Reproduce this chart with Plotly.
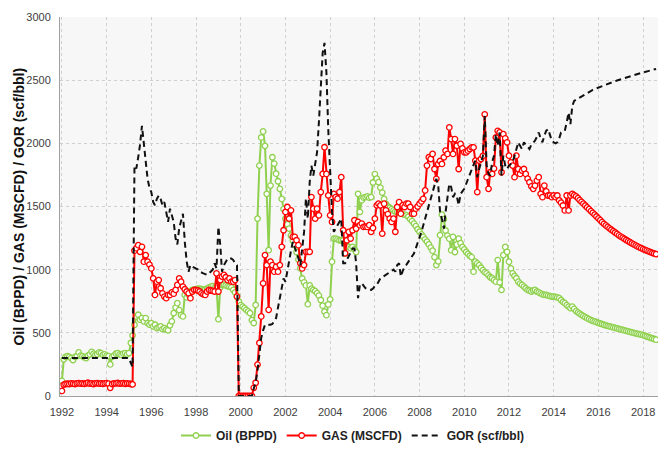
import pandas as pd
import plotly.graph_objects as go

start_month = "1992-01-01"

oil_bppd = [
    120, 290, 310, 315, 310, 300, 285, 310, 315, 345, 320, 315,  # 1992
    305, 300, 320, 330, 350, 335, 325, 330, 345, 340, 325, 330,  # 1993
    320, 315, 250, 310, 320, 335, 340, 330, 325, 335, 340, 330,  # 1994
    340, 420, 480, 564, 630, 643, 604, 617, 591, 617, 577, 565,  # 1995
    577, 551, 564, 538, 545, 551, 530, 538, 525, 520, 560, 591,  # 1996
    656, 700, 735, 680, 640, 630, 800, 780, 800, 830, 840, 840,  # 1997
    845, 850, 850, 845, 840, 845, 850, 860, 865, 870, 860, 870,  # 1998
    608, 860, 880, 880, 875, 870, 865, 860, 840, 820, 790, 748,  # 1999
    720, 708, 695, 682, 670, 656, 600, 578, 721, 1404, 1824, 2047,  # 2000
    2094, 1980, 1600, 1154, 1666, 1890, 1840, 1760, 1700, 1640, 1560, 1480,  # 2001
    1404, 1360, 1325, 1270, 1230, 1194, 1140, 1080, 1010, 930, 900, 875,  # 2002
    727, 875, 850, 840, 830, 815, 795, 760, 715, 668, 640, 725,  # 2003
    765, 1063, 1246, 1246, 1240, 1233, 1233, 1233, 1128, 1190, 1180, 1170,  # 2004
    1180, 1160, 1140, 1600, 1458, 1550, 1570, 1575, 1580, 1570, 1575, 1690,  # 2005
    1757, 1720, 1693, 1650, 1610, 1560, 1520, 1500, 1490, 1480, 1470, 1460,  # 2006
    1455, 1450, 1445, 1440, 1435, 1430, 1420, 1400, 1385, 1365, 1345, 1320,  # 2007
    1300, 1280, 1260, 1240, 1222, 1200, 1175, 1150, 1100, 1036, 1066, 1273,  # 2008
    1435, 1400, 1310, 1270, 1245, 1154, 1260, 1140, 1200, 1245, 1210, 1180,  # 2009
    1160, 1140, 1125, 1110, 1100, 984, 1063, 1050, 1036, 1015, 997, 980,  # 2010
    971, 955, 940, 932, 918, 905, 1076, 900, 840, 1115, 1180, 1141,  # 2011
    1063, 1010, 971, 950, 932, 905, 890, 879, 866, 853, 840, 835,  # 2012
    827, 835, 840, 827, 820, 813, 805, 800, 800, 795, 790, 787,  # 2013
    787, 785, 780, 774, 760, 745, 735, 720, 708, 696, 708, 690,  # 2014
    672, 662, 652, 642, 633, 624, 616, 608, 601, 595, 590, 584,  # 2015
    579, 574, 569, 564, 559, 555, 551, 547, 543, 539, 535, 531,  # 2016
    527, 523, 519, 515, 511, 507, 503, 499, 496, 492, 489, 486,  # 2017
    482, 477, 471, 466, 461, 456, 451, 446,  # 2018
]

gas_mscfd = [
    40, 90, 95, 97, 95, 100, 98, 95, 100, 102, 98, 100,  # 1992
    97, 100, 105, 98, 100, 95, 100, 102, 98, 100, 97, 100,  # 1993
    102, 98, 65, 95, 100, 100, 103, 98, 100, 102, 97, 100,  # 1994
    98, 95, 92, 1150, 1170, 1194, 1141, 1181, 1063, 1115, 1063, 1040,  # 1995
    1010, 931, 800, 905, 918, 853, 813, 787, 774, 800, 800, 820,  # 1996
    810, 840, 879, 931, 905, 866, 845, 827, 813, 774, 827, 840,  # 1997
    840, 835, 827, 813, 805, 800, 827, 840, 835, 832, 827, 971,  # 1998
    827, 918, 945, 958, 940, 918, 931, 905, 905, 918, 787, 0,  # 1999
    0, 0, 0, 0, 0, 0, 0, 65, 105, 249, 420, 630,  # 2000
    892, 1115, 1036, 682, 1063, 1036, 984, 1023, 984, 1036, 1181, 1312,  # 2001
    1457, 1496, 1404, 1470, 1260, 1260, 1233, 1194, 1050, 1010, 1036, 1141,  # 2002
    1141, 1141, 1575, 1483, 1404, 1483, 1430, 1614, 1758, 1969, 1758, 1588,  # 2003
    1430, 1378, 1600, 1575, 1562, 1614, 1732, 1312, 1130, 1233, 1299, 1246,  # 2004
    1312, 1391, 1325, 1378, 1352, 1365, 1338, 1340, 1338, 1352, 1299, 1330,  # 2005
    1404, 1509, 1522, 1509, 1286, 1522, 1470, 1440, 1404, 1378, 1404, 1300,  # 2006
    1496, 1535, 1443, 1510, 1496, 1522, 1522, 1496, 1443, 1443, 1483, 1500,  # 2007
    1522, 1540, 1561, 1627, 1824, 1890, 1876, 1916, 1797, 1719, 1837, 1860,  # 2008
    1837, 1890, 1942, 1916, 2126, 2034, 1916, 2034, 1981, 1797, 1995, 1960,  # 2009
    1929, 1929, 1942, 1955, 1968, 1968, 1863, 1614, 1863, 1876, 1900, 2230,  # 2010
    1732, 1640, 1771, 1758, 1800, 2047, 2099, 2086, 1771, 2073, 2040, 2008,  # 2011
    1902, 1850, 1824, 1732, 1902, 1797, 1758, 1784, 1797, 1758, 1720, 1692,  # 2012
    1660, 1640, 1666, 1705, 1732, 1600, 1574, 1666, 1620, 1587, 1587, 1574,  # 2013
    1587, 1574, 1587, 1548, 1530, 1508, 1469, 1587, 1469, 1587, 1600, 1590,  # 2014
    1580, 1566, 1551, 1537, 1522, 1508, 1493, 1479, 1464, 1450, 1435, 1421,  # 2015
    1406, 1392, 1377, 1363, 1350, 1338, 1327, 1316, 1305, 1294, 1283, 1272,  # 2016
    1262, 1253, 1244, 1235, 1226, 1217, 1208, 1200, 1192, 1184, 1177, 1170,  # 2017
    1163, 1157, 1151, 1145, 1139, 1133, 1128, 1123,  # 2018
]

gor_scf_bbl = [
    300, 300, 300, 300, 300, 300, 300, 300, 300, 300, 300, 300,  # 1992
    300, 300, 300, 300, 300, 300, 300, 300, 300, 300, 300, 300,  # 1993
    300, 300, 300, 300, 300, 300, 300, 300, 300, 300, 300, 300,  # 1994
    300, 260, 230, 1824, 1800, 1890, 1990, 2139, 2008, 1850, 1719, 1650,  # 1995
    1614, 1535, 1510, 1561, 1587, 1560, 1510, 1535, 1450, 1378, 1483, 1420,  # 1996
    1378, 1246, 1200, 1330, 1400, 1443, 1220, 1063, 984, 1036, 1023, 1015,  # 1997
    1010, 1000, 984, 975, 971, 965, 958, 970, 984, 1000, 1050, 1010,  # 1998
    1339, 1194, 984, 1036, 1060, 1089, 1089, 1089, 1076, 1050, 1036, 0,  # 1999
    0, 0, 0, 0, 0, 0, 0, 60, 110, 200, 330, 460,  # 2000
    520, 564, 564, 564, 564, 570, 590, 617, 700, 774, 850, 931,  # 2001
    905, 1000, 1063, 1150, 1220, 1180, 1141, 1090, 1036, 1167, 1299, 1562,  # 2002
    1404, 1693, 1824, 1745, 1850, 1929, 2165, 2454, 2717, 2795, 2560, 2113,  # 2003
    1719, 1457, 1299, 1330, 1352, 1380, 1404, 1050, 1050, 1080, 1100, 1141,  # 2004
    1167, 1167, 1050, 774, 879, 892, 870, 853, 845, 840, 840, 850,  # 2005
    870, 879, 900, 931, 940, 950, 958, 965, 975, 984, 1000, 984,  # 2006
    1036, 1050, 945, 990, 1023, 1040, 1063, 1080, 1100, 1128, 1170, 1210,  # 2007
    1246, 1300, 1350, 1404, 1460, 1510, 1561, 1610, 1660, 1719, 1666, 1457,  # 2008
    1400, 1325, 1457, 1561, 1679, 1653, 1574, 1600, 1580, 1510, 1600, 1620,  # 2009
    1640, 1680, 1719, 1760, 1797, 1830, 1863, 1732, 1797, 1850, 1900, 2217,  # 2010
    1824, 1760, 1745, 1850, 1902, 2073, 1981, 2086, 1745, 1902, 1824, 1797,  # 2011
    1824, 1837, 1850, 1900, 1950, 2008, 1980, 1955, 2008, 1990, 1970, 1955,  # 2012
    1990, 2008, 2021, 2050, 2086, 2040, 2008, 2060, 2100, 2113, 2060, 2021,  # 2013
    2008, 2000, 2008, 2040, 2086, 2090, 2099, 2165, 2244, 2152, 2296, 2336,  # 2014
    2345, 2355, 2365, 2375, 2384, 2393, 2401, 2409, 2416, 2423, 2430, 2436,  # 2015
    2442, 2448, 2454, 2460, 2466, 2472, 2477, 2482, 2487, 2492, 2497, 2502,  # 2016
    2507, 2512, 2517, 2522, 2527, 2532, 2537, 2541, 2545, 2549, 2553, 2557,  # 2017
    2561, 2565, 2569, 2573, 2577, 2581, 2585, 2589,  # 2018
]

series_names = ["Oil (BPPD)", "GAS (MSCFD)", "GOR (scf/bbl)"]
y_title = "Oil (BPPD) / GAS (MSCFD) / GOR (scf/bbl)"

months = pd.date_range(start_month, periods=len(oil_bppd), freq="MS")

OIL_C = "#8fd14f"
GAS_C = "#ff0000"

fig = go.Figure()
fig.add_trace(go.Scatter(
    x=months, y=oil_bppd, name=series_names[0], mode="lines+markers",
    line=dict(color=OIL_C, width=2),
    marker=dict(symbol="circle", size=5.5, color="white", line=dict(color=OIL_C, width=1.3)),
))
fig.add_trace(go.Scatter(
    x=months, y=gas_mscfd, name=series_names[1], mode="lines+markers",
    line=dict(color=GAS_C, width=2),
    marker=dict(symbol="circle", size=5.5, color="white", line=dict(color=GAS_C, width=1.3)),
))
fig.add_trace(go.Scatter(
    x=months, y=gor_scf_bbl, name=series_names[2], mode="lines",
    line=dict(color="#111111", width=2, dash="6px,4px"),
))

tick_font = dict(family="Liberation Sans, Arial, sans-serif", size=11, color="#404040")

fig.update_layout(
    width=658, height=450,
    margin=dict(l=60, r=0, t=17, b=52),
    paper_bgcolor="white",
    plot_bgcolor="#f7f7f7",
    showlegend=True,
    legend=dict(
        orientation="h", xanchor="center", yanchor="middle",
        x=0.49, y=-0.105,
        font=dict(family="Liberation Sans, Arial, sans-serif", size=12, color="#222222", weight="bold"),
        itemwidth=30, bgcolor="rgba(0,0,0,0)", tracegroupgap=0,
    ),
    xaxis=dict(
        type="date", range=["1991-12-01", "2018-09-01"],
        dtick="M24", tick0="1992-01-01", tickformat="%Y",
        showgrid=True, gridcolor="#cfcfcf", griddash="dot", gridwidth=1,
        showline=True, linecolor="#a0a0a0", linewidth=1,
        ticks="", ticklabelstandoff=6, tickfont=tick_font, zeroline=False,
    ),
    yaxis=dict(
        range=[0, 3000], dtick=500, tick0=0,
        showgrid=True, gridcolor="#cfcfcf", griddash="dot", gridwidth=1,
        showline=True, linecolor="#a0a0a0", linewidth=1,
        ticks="", ticklabelstandoff=6, tickfont=tick_font, zeroline=False,
    ),
    annotations=[dict(
        text=y_title, textangle=-90, xref="paper", yref="paper",
        x=-0.0702, y=0.5, xanchor="center", yanchor="middle", showarrow=False,
        font=dict(family="Liberation Sans, Arial, sans-serif", size=14, color="#111111", weight="bold"),
    )],
)

fig.write_html(
    "out.html",
    config={"displayModeBar": False},
    post_script="document.body.style.margin='0';document.body.style.overflow='hidden';",
)
